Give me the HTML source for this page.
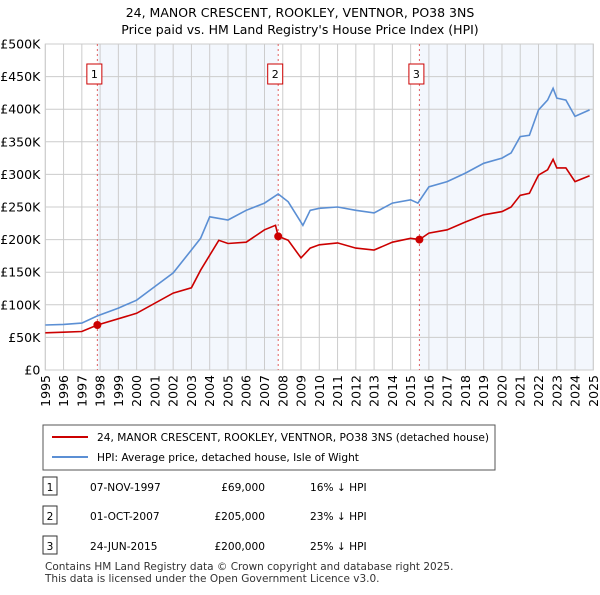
<!DOCTYPE html>
<html><head><meta charset="utf-8"><style>
body{margin:0;background:#fff;font-family:"Liberation Sans","DejaVu Sans",sans-serif;}
svg text{font-family:"DejaVu Sans","Liberation Sans",sans-serif;}
</style></head><body>
<svg id="c" width="600" height="590">
<text x="300" y="17" font-size="12.5" text-anchor="middle">24, MANOR CRESCENT, ROOKLEY, VENTNOR, PO38 3NS</text>
<text x="300" y="34" font-size="12.5" text-anchor="middle">Price paid vs. HM Land Registry's House Price Index (HPI)</text>
<g id="plot"></g>
<rect x="43" y="425" width="452" height="45" fill="#fff" stroke="#555"/>
<line x1="52" y1="437" x2="88" y2="437" stroke="#cc0000" stroke-width="2"/>
<text x="97" y="441" font-size="10.6">24, MANOR CRESCENT, ROOKLEY, VENTNOR, PO38 3NS (detached house)</text>
<line x1="52" y1="457" x2="88" y2="457" stroke="#5b8fd4" stroke-width="2"/>
<text x="97" y="461" font-size="10.6">HPI: Average price, detached house, Isle of Wight</text>
<g id="tbl" font-size="10.6"></g>
<text x="45" y="570" font-size="10.5" fill="#333">Contains HM Land Registry data © Crown copyright and database right 2025.</text>
<text x="45" y="582" font-size="10.5" fill="#333">This data is licensed under the Open Government Licence v3.0.</text>
</svg>
<script>
const hpiYears=[1995,1996,1997,1997.85,1999,2000,2001,2002,2003,2003.5,2004,2005,2006,2007,2007.75,2008.3,2009.1,2009.5,2010,2011,2012,2013,2014,2015,2015.4,2016,2017,2018,2019,2020,2020.5,2021,2021.5,2022,2022.5,2022.8,2023,2023.5,2024,2024.8];
const hpiValues=[69,70,72,83,95,107,128,149,184,202,235,230,245,256,270,258,222,245,248,250,245,241,256,261,256,281,289,302,317,325,333,358,360,399,414,432,417,414,389,399];
const priceYears=[1995,1996,1997,1997.85,2000,2002,2003,2003.5,2004.5,2005,2006,2007,2007.6,2007.75,2008.3,2009,2009.5,2010,2011,2012,2013,2014,2015,2015.48,2016,2017,2018,2019,2020,2020.5,2021,2021.5,2022,2022.5,2022.8,2023,2023.5,2024,2024.8];
const priceValues=[57,58,59,69,87,118,126,153,199,194,196,215,222,205,199,172,187,192,195,187,184,196,202,200,210,215,227,238,243,250,268,271,299,307,323,310,310,289,298];
const saleYears=[1997.85,2007.75,2015.48];
const saleValues=[69,205,200];
const saleDates=["07-NOV-1997","01-OCT-2007","24-JUN-2015"];
const salePrices=["£69,000","£205,000","£200,000"];
const saleHpi=["16% ↓ HPI","23% ↓ HPI","25% ↓ HPI"];
const yTicks=[0,50,100,150,200,250,300,350,400,450,500];
const yTickLabels=["£0","£50K","£100K","£150K","£200K","£250K","£300K","£350K","£400K","£450K","£500K"];
const xTicks=[1995,1996,1997,1998,1999,2000,2001,2002,2003,2004,2005,2006,2007,2008,2009,2010,2011,2012,2013,2014,2015,2016,2017,2018,2019,2020,2021,2022,2023,2024,2025];

const L=45.3,R=593.3,T=44,B=370;
const X=y=>L+(y-1995)*(R-L)/30;
const Y=v=>B-v*(B-T)/500;
const NS="http://www.w3.org/2000/svg";
const g=document.getElementById('plot');
function mk(t,a,p){const e=document.createElementNS(NS,t);for(const k in a)e.setAttribute(k,a[k]);(p||g).appendChild(e);return e;}

let e=mk('rect',{x:L,y:T,width:R-L,height:B-T,fill:'#fff'});


e=mk('rect',{x:X(saleYears[0]),y:T,width:X(saleYears[1])-X(saleYears[0]),height:B-T,fill:'#eef3fc',opacity:0.7});


e=mk('rect',{x:X(saleYears[2]),y:T,width:R-X(saleYears[2]),height:B-T,fill:'#eef3fc',opacity:0.7});



yTicks.forEach((v,i)=>{
 let l=mk('line',{x1:L,x2:R,y1:Y(v),y2:Y(v),stroke:'#cccccc'});
 
 
 let t=mk('text',{x:L-5,y:Y(v)+4.5,'font-size':12.5,'text-anchor':'end'});t.textContent=yTickLabels[i];
 
 
});
xTicks.forEach(v=>{
 let l=mk('line',{x1:X(v),x2:X(v),y1:T,y2:B,stroke:'#cccccc'});
 
 
 const tx=X(v)+4.5,ty=B+5;
 let t=mk('text',{x:tx,y:ty,'font-size':12.5,'text-anchor':'end',transform:`rotate(-90 ${tx} ${ty})`});t.textContent=v;
 
 
});
e=mk('rect',{x:L,y:T,width:R-L,height:B-T,fill:'none',stroke:'#cccccc'});



saleYears.forEach((s,i)=>{
 let l=mk('line',{x1:X(s),x2:X(s),y1:T,y2:B,stroke:'#e06060','stroke-dasharray':'2,3'});
 
 
 let r=mk('rect',{x:X(s)-10.5,y:64,width:15,height:20,fill:'#fff',stroke:'#cc0000'});
 
 
 let t=mk('text',{x:X(s)-3,y:78,'font-size':11,'text-anchor':'middle'});t.textContent=i+1;
 
 
});

function path(xs,vs,c,n){
 let p=mk('path',{d:xs.map((x,i)=>(i?'L':'M')+X(x).toFixed(1)+' '+Y(vs[i]).toFixed(1)).join(''),fill:'none',stroke:c,'stroke-width':1.6});
 
 
}
path(hpiYears,hpiValues,'#5b8fd4','hpi-line');
path(priceYears,priceValues,'#cc0000','price-paid-line');
saleYears.forEach((s,i)=>{
 let c=mk('circle',{cx:X(s),cy:Y(saleValues[i]),r:4,fill:'#cc0000'});
 
 
});

const tb=document.getElementById('tbl');
[487,516,546].forEach((y,i)=>{
 let r=mk('rect',{x:43,y:y-10,width:14,height:18,fill:'#fff',stroke:'#333'},tb);
 
 
 const cells=[[50,i+1,'middle'],[90,saleDates[i],'start'],[265,salePrices[i],'end'],[310,saleHpi[i],'start']];
 cells.forEach(cl=>{
  let t=mk('text',{x:cl[0],y:y+4,'text-anchor':cl[2]},tb);t.textContent=cl[1];
  
  
 });
});
</script>
</body></html>
